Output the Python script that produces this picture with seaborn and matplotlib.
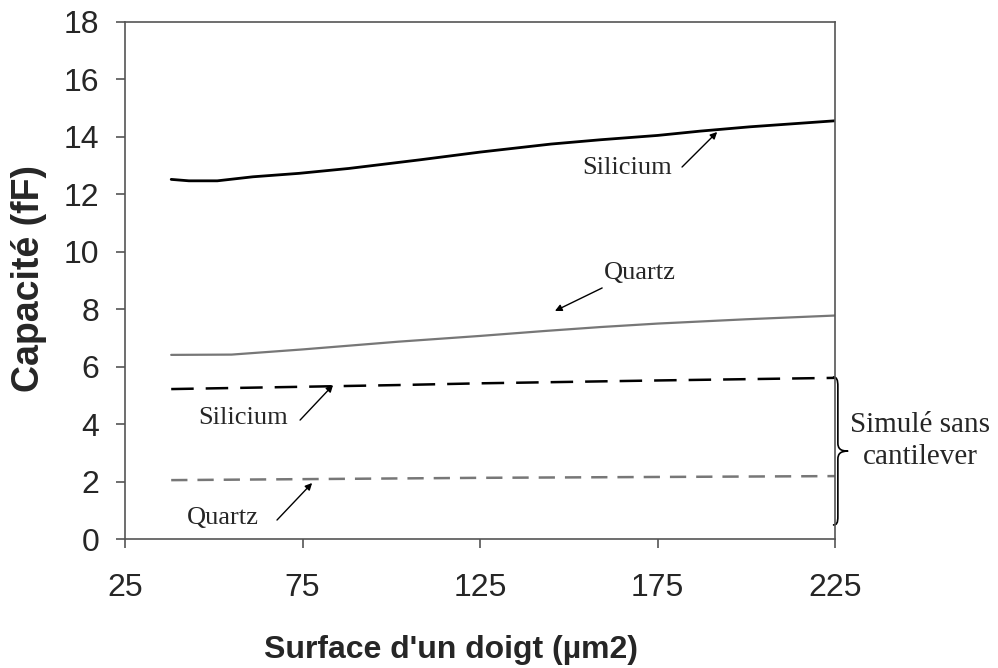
import numpy as np
import pandas as pd
import matplotlib
matplotlib.use('Agg')
import matplotlib.pyplot as plt
from matplotlib.path import Path
from matplotlib.patches import PathPatch
import seaborn as sns

# surface d'un doigt (um2) / capacite (fF)
si_x = [38, 43, 51, 61, 74, 88, 108, 125, 145, 159, 175, 187, 201, 225]
si_y = [12.52, 12.47, 12.47, 12.61, 12.73, 12.9, 13.2, 13.47, 13.75, 13.9, 14.05, 14.2, 14.35, 14.56]

qz_x = [38, 55, 75, 102, 125, 143, 159, 175, 200, 225]
qz_y = [6.41, 6.42, 6.6, 6.87, 7.07, 7.24, 7.38, 7.5, 7.65, 7.78]

# simule sans cantilever
si_sim_x = [38, 75, 102, 125, 175, 225]
si_sim_y = [5.22, 5.3, 5.36, 5.42, 5.52, 5.61]

qz_sim_x = [38, 125, 225]
qz_sim_y = [2.05, 2.13, 2.19]

x_ticks = [25, 75, 125, 175, 225]
y_ticks = list(range(0, 19, 2))

sns.set_style('ticks')
plt.rcParams['font.family'] = ['Liberation Sans', 'DejaVu Sans']
serif = ['Liberation Serif', 'DejaVu Serif']

fig = plt.figure(figsize=(9.98, 6.68), dpi=100)
ax = fig.add_axes([0.1253, 0.1931, 0.7114, 0.774])

grey = '#777777'
sns.lineplot(x=si_x, y=si_y, ax=ax, color='black', lw=2.0)
sns.lineplot(x=qz_x, y=qz_y, ax=ax, color=grey, lw=1.6)
sns.lineplot(x=si_sim_x, y=si_sim_y, ax=ax, color='black', lw=1.8,
             linestyle=(0, (9, 4.8)))
sns.lineplot(x=qz_sim_x, y=qz_sim_y, ax=ax, color=grey, lw=1.8,
             linestyle=(0, (6.5, 4)))

ax.set_xlim(25, 225)
ax.set_ylim(0, 18)
ax.set_xticks(x_ticks)
ax.set_yticks(y_ticks)
for s in ax.spines.values():
    s.set_color('#555555')
    s.set_linewidth(1.2)
ax.tick_params(axis='both', labelsize=23, length=6.5, width=1.2, color='#555555')
ax.tick_params(axis='y', pad=12)
ax.tick_params(axis='x', pad=18)

ax.set_xlabel("Surface d'un doigt (\u00b5m2)", fontsize=23, fontweight='bold')
ax.set_ylabel('Capacit\u00e9 (fF)', fontsize=27, fontweight='bold')
ax.xaxis.set_label_coords(0.459, -0.186)
ax.yaxis.set_label_coords(-0.11, 0.503)

# annotations
arrow = dict(arrowstyle='-|>', color='black', lw=1.0, mutation_scale=10, shrinkA=0, shrinkB=0)
notes = [
    ('Silicium', (166.4, 12.92), (181.9, 12.95), (191.8, 14.17)),
    ('Quartz', (170.1, 9.26), (159.4, 8.74), (146.1, 7.94)),
    ('Silicium', (58.2, 4.21), (74.3, 4.14), (83.6, 5.36)),
    ('Quartz', (52.6, 0.73), (67.8, 0.66), (77.7, 1.95)),
]
for txt, pos, tail, tip in notes:
    ax.text(pos[0], pos[1], txt, family=serif, fontsize=19, ha='center', va='center')
    ax.annotate('', xy=tip, xytext=tail, arrowprops=arrow)

# accolade
verts = [(224.4, 5.64),
         (225.5, 5.64), (225.8, 5.55), (225.8, 5.3),
         (225.8, 3.35),
         (225.8, 3.15), (226.5, 3.06), (228.7, 3.06),
         (226.5, 3.06), (225.8, 2.97), (225.8, 2.77),
         (225.8, 0.8),
         (225.8, 0.55), (225.5, 0.49), (224.4, 0.49)]
codes = ([Path.MOVETO] + [Path.CURVE4] * 3 + [Path.LINETO] + [Path.CURVE4] * 6
         + [Path.LINETO] + [Path.CURVE4] * 3)
brace = PathPatch(Path(verts, codes), fill=False, lw=1.2, color='black', clip_on=False)
ax.add_patch(brace)
ax.text(249, 3.41, 'Simul\u00e9 sans\ncantilever', family=serif, fontsize=21,
        ha='center', va='center', linespacing=1.3, clip_on=False)

plt.savefig('out.png', dpi=100)
